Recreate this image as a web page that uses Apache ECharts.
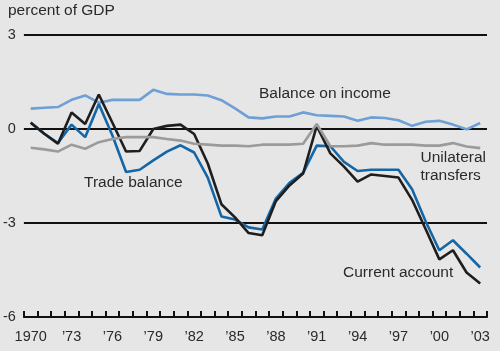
<!DOCTYPE html>
<html>
<head>
<meta charset="utf-8">
<script src="https://cdn.jsdelivr.net/npm/echarts@6/dist/echarts.min.js"></script>
<style>
  html, body { margin: 0; padding: 0; background: #e6e6e6; }
  #chart { width: 500px; height: 351px; }
</style>
</head>
<body>
<div id="chart"></div>
<script>
// years on the x axis
const years = []
for (let y = 1970; y <= 2003; y++) years.push(String(y))

// percent of GDP
const balanceOnIncome = [0.65, 0.68, 0.70, 0.93, 1.07, 0.84, 0.93, 0.93, 0.93, 1.25,
  1.12, 1.1, 1.1, 1.07, 0.92, 0.66, 0.37, 0.34, 0.4, 0.4,
  0.53, 0.44, 0.42, 0.4, 0.26, 0.37, 0.35, 0.28, 0.1, 0.23,
  0.26, 0.14, -0.01, 0.19]
const tradeBalance = [0.21, -0.15, -0.45, 0.14, -0.26, 0.8, -0.21, -1.37, -1.3, -1.0,
  -0.72, -0.52, -0.75, -1.55, -2.79, -2.89, -3.14, -3.21, -2.22, -1.72,
  -1.4, -0.53, -0.55, -1.05, -1.34, -1.3, -1.3, -1.3, -1.92, -2.95,
  -3.87, -3.55, -3.98, -4.42]
const currentAccount = [0.2, -0.15, -0.47, 0.53, 0.16, 1.1, 0.2, -0.72, -0.7, 0.0,
  0.1, 0.14, -0.16, -1.1, -2.4, -2.82, -3.32, -3.39, -2.3, -1.8,
  -1.42, 0.1, -0.78, -1.2, -1.68, -1.45, -1.5, -1.55, -2.26, -3.2,
  -4.16, -3.87, -4.58, -4.93]
const unilateralTransfers = [-0.6, -0.65, -0.72, -0.5, -0.63, -0.42, -0.32, -0.26, -0.26, -0.26,
  -0.32, -0.37, -0.47, -0.5, -0.53, -0.53, -0.55, -0.5, -0.5, -0.5,
  -0.47, 0.16, -0.55, -0.55, -0.53, -0.45, -0.5, -0.5, -0.5, -0.53,
  -0.53, -0.45, -0.56, -0.61]

const textColor = '#2a2a2a'
const font = 'Liberation Sans, Arial, sans-serif'

const chart = echarts.init(document.getElementById('chart'), null, { renderer: 'canvas' })

const line = (name, data, color) => ({
  name: name,
  type: 'line',
  data: data,
  symbol: 'none',
  lineStyle: { color: color, width: 2.6 },
  z: 3,
})

const label = (text, left, top) => ({
  type: 'text',
  left: left,
  top: top,
  style: { text: text, fill: textColor, font: '15.5px ' + font },
})

chart.setOption({
  backgroundColor: '#e6e6e6',
  animation: false,
  grid: { left: 23, right: 13, top: 35, bottom: 34 },
  xAxis: {
    type: 'category',
    data: years,
    axisLine: { onZero: false, lineStyle: { color: '#111', width: 2 } },
    // small upward ticks at every year boundary
    axisTick: { show: true, inside: true, length: 6, interval: 0, lineStyle: { color: '#111', width: 2 } },
    axisLabel: {
      interval: 2,
      color: textColor,
      fontSize: 14.5,
      fontFamily: font,
      margin: 12,
      formatter: v => (v === '1970' ? v : '\u2019' + v.slice(2)),
    },
  },
  yAxis: {
    type: 'value',
    min: -6,
    max: 3,
    interval: 3,
    axisLine: { show: false },
    axisTick: { show: false },
    axisLabel: { color: textColor, fontSize: 14.5, fontFamily: font, margin: 8 },
    splitLine: { lineStyle: { color: '#111', width: 2 } },
  },
  series: [
    line('Balance on income', balanceOnIncome, '#6e9fd6'),
    line('Trade balance', tradeBalance, '#1466a6'),
    line('Current account', currentAccount, '#1e1e1e'),
    line('Unilateral transfers', unilateralTransfers, '#9b9b9b'),
  ],
  graphic: [
    label('percent of GDP', 8, 3),
    label('Balance on income', 259, 86),
    { type: 'text', right: 14, top: 149, style: { text: 'Unilateral\ntransfers', fill: textColor, font: '15.5px ' + font, align: 'right', lineHeight: 18 } },
    label('Trade balance', 84, 175),
    label('Current account', 343, 265),
  ],
})
</script>
</body>
</html>
